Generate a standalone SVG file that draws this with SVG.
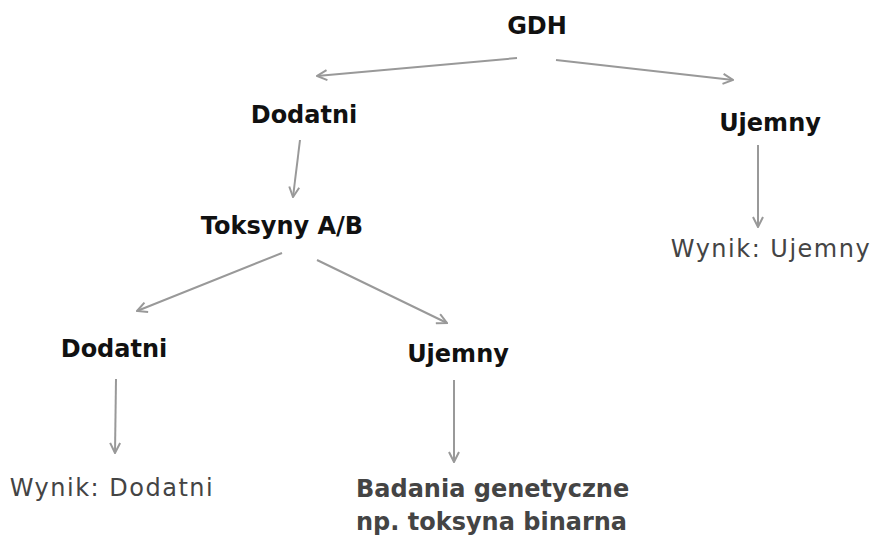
<svg xmlns="http://www.w3.org/2000/svg" width="875" height="537" viewBox="0 0 875 537">
<style>
.h{font-family:"DejaVu Sans","Liberation Sans",sans-serif;font-size:24px;font-weight:bold;fill:#111;text-anchor:middle}
.r{font-family:"DejaVu Sans","Liberation Sans",sans-serif;font-size:24px;letter-spacing:1.5px;fill:#444;text-anchor:middle}
.b{font-family:"DejaVu Sans","Liberation Sans",sans-serif;font-size:24px;font-weight:bold;fill:#444}
.c{stroke:#999;stroke-width:2;fill:none;marker-end:url(#ah)}
</style>
<defs>
<marker id="ah" viewBox="0 0 12 12" refX="11" refY="6" markerWidth="12" markerHeight="12" markerUnits="userSpaceOnUse" orient="auto">
<path d="M1,1 L11,6 L1,11" fill="none" stroke="#999" stroke-width="2"/>
</marker>
</defs>
<rect width="875" height="537" fill="#fff"/>
<g id="connectors">
<line class="c" x1="517" y1="58" x2="317" y2="76"/>
<line class="c" x1="556" y1="60" x2="733" y2="80"/>
<line class="c" x1="300" y1="140" x2="293" y2="197"/>
<line class="c" x1="282" y1="253" x2="137" y2="311"/>
<line class="c" x1="317" y1="260" x2="447" y2="323"/>
<line class="c" x1="116" y1="379" x2="115" y2="453"/>
<line class="c" x1="454" y1="380" x2="454" y2="462"/>
<line class="c" x1="758" y1="145" x2="758" y2="227"/>
</g>
<g id="gdh"><text class="h" x="537" y="34">GDH</text></g>
<g id="dodatni1"><text class="h" x="304" y="123">Dodatni</text></g>
<g id="ujemny1"><text class="h" x="770" y="131">Ujemny</text></g>
<g id="toksyny"><text class="h" x="282" y="234">Toksyny A/B</text></g>
<g id="wynik-ujemny"><text class="r" x="771" y="257">Wynik: Ujemny</text></g>
<g id="dodatni2"><text class="h" x="114" y="357">Dodatni</text></g>
<g id="ujemny2"><text class="h" x="458" y="362">Ujemny</text></g>
<g id="wynik-dodatni"><text class="r" x="112" y="496">Wynik: Dodatni</text></g>
<g id="badania"><text class="b" x="356" y="497">Badania genetyczne</text><text class="b" x="356" y="530">np. toksyna binarna</text></g>
</svg>
